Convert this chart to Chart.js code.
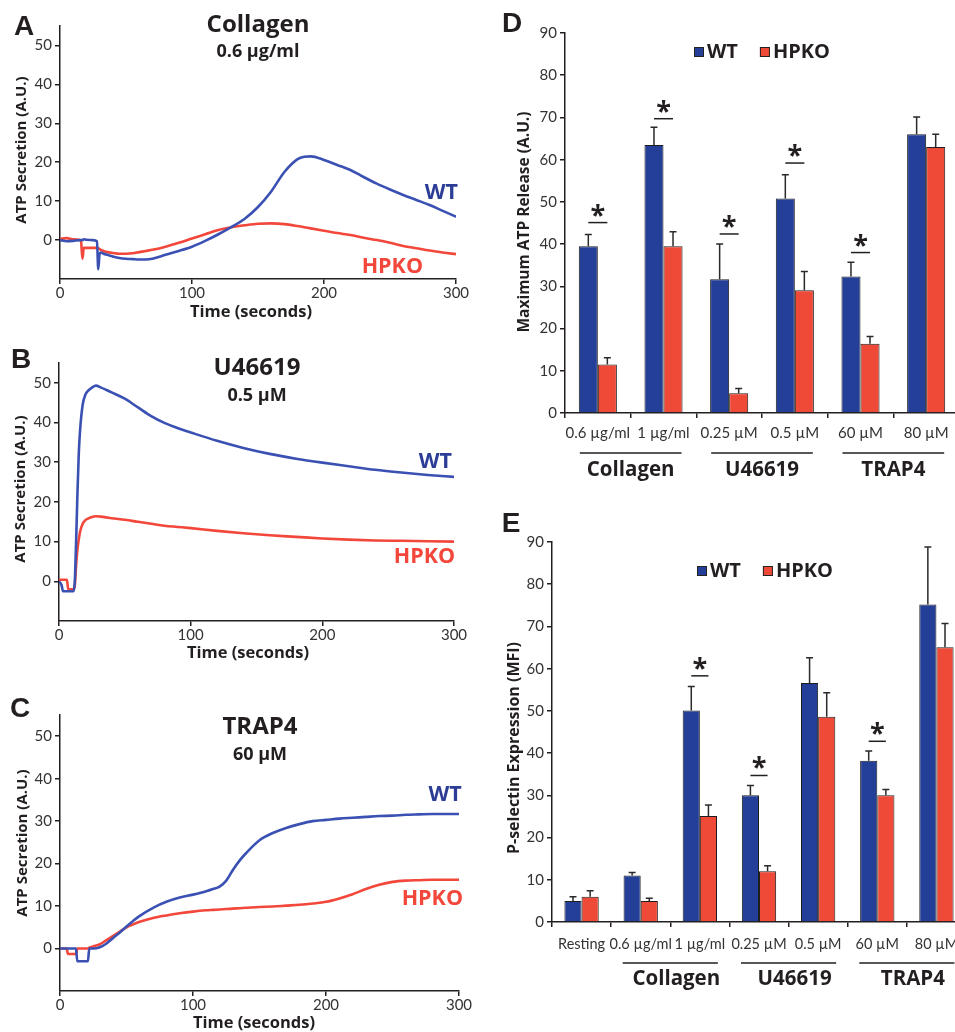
<!DOCTYPE html>
<html>
<head>
<meta charset="utf-8">
<title>ATP secretion and P-selectin expression</title>
<script src="https://cdn.jsdelivr.net/npm/chart.js@4.4.1/dist/chart.umd.min.js"></script>
<style>
  html, body { margin: 0; padding: 0; background: #fff; }
  body { position: relative; width: 955px; height: 1032px; overflow: hidden; }
  canvas { position: absolute; }
</style>
</head>
<body>
<canvas id="panelA" width="470" height="325" style="left:0;top:0"></canvas>
<canvas id="panelB" width="470" height="340" style="left:0;top:330px"></canvas>
<canvas id="panelC" width="480" height="362" style="left:0;top:670px"></canvas>
<canvas id="panelD" width="475" height="500" style="left:490px;top:0"></canvas>
<canvas id="panelE" width="485" height="532" style="left:490px;top:500px"></canvas>

<script>
'use strict';

/* ── Panel A: ATP secretion, collagen 0.6 µg/ml ── */
const timeA  = [0, 5, 10, 15, 16, 17, 18, 20, 25, 28, 29, 30, 31, 33, 36, 40, 45, 50, 55, 60, 65, 70, 80, 90, 100, 110, 120, 130, 140, 150, 160, 170, 180, 185, 190, 200, 210, 220, 230, 240, 250, 260, 270, 280, 290, 300];
const wtA    = [0, -0.3, -0.2, 0, 0, 0, 0.2, 0.1, 0, -0.3, -7.5, -3.5, -3.2, -3.5, -3.8, -4.2, -4.6, -4.8, -4.9, -5, -5, -4.8, -3.8, -2.8, -1.7, -0.2, 1.5, 3.4, 5.5, 8.5, 12.5, 17.5, 20.8, 21.4, 21.5, 20.6, 19.3, 18, 16.2, 14.5, 13, 11.6, 10.3, 9, 7.5, 6];
const hpkoA  = [0.3, 0.5, 0.2, 0, -0.5, -4.8, -2, -2, -2, -2, -2.1, -2.3, -2.5, -2.8, -3.1, -3.3, -3.5, -3.5, -3.4, -3.1, -2.8, -2.5, -1.7, -0.7, 0.4, 1.5, 2.6, 3.3, 3.8, 4.2, 4.3, 4.1, 3.6, 3.3, 3, 2.4, 1.8, 1.3, 0.6, 0, -0.7, -1.5, -2.1, -2.7, -3.2, -3.6];

/* ── Panel B: ATP secretion, U46619 0.5 µM ── */
const timeB  = [0, 2, 3, 6, 7, 11, 12, 13, 14, 15, 16, 18, 20, 22, 25, 28, 32, 36, 40, 50, 60, 70, 80, 90, 100, 120, 140, 160, 180, 200, 220, 240, 260, 280, 300];
const wtB    = [0, -1, -2.5, -2.5, -2.5, -2.5, 0, 10, 22, 32, 38, 44.5, 47, 48, 48.8, 49.3, 48.8, 48.2, 47.6, 46, 43.8, 41.6, 39.9, 38.6, 37.5, 35.4, 33.6, 32.1, 30.9, 29.9, 29, 28.1, 27.4, 26.8, 26.3];
const hpkoB  = [0.4, 0.4, 0.4, 0.4, -2, -2, -1, 4, 8, 10.5, 12.5, 14.5, 15.4, 15.8, 16.2, 16.4, 16.3, 16.1, 15.9, 15.5, 15, 14.5, 14, 13.7, 13.4, 12.7, 12.1, 11.6, 11.2, 10.8, 10.5, 10.3, 10.2, 10.1, 10];

/* ── Panel C: ATP secretion, TRAP4 60 µM ── */
const timeC  = [0, 5, 6, 11, 12, 13, 20, 21, 22, 25, 30, 35, 40, 45, 50, 55, 60, 70, 80, 90, 100, 110, 115, 120, 125, 130, 135, 140, 150, 160, 170, 180, 190, 200, 210, 220, 230, 240, 250, 260, 270, 280, 290, 300];
const wtC    = [0, 0, 0, 0, 0, -3, -3, -3, 0, 0, 0.3, 1.2, 2.5, 3.8, 5.2, 6.5, 7.7, 9.6, 11, 12, 12.7, 13.5, 14, 14.6, 16, 18.5, 20.7, 22.5, 25.5, 27.2, 28.4, 29.3, 30, 30.3, 30.6, 30.8, 31, 31.2, 31.3, 31.5, 31.6, 31.7, 31.7, 31.7];
const hpkoC  = [0, 0, -1.3, -1.3, -1.3, 0, 0, 0, 0.2, 0.5, 1, 2, 3, 4, 5, 5.7, 6.3, 7.2, 7.8, 8.3, 8.7, 9, 9.1, 9.2, 9.3, 9.4, 9.5, 9.6, 9.8, 9.9, 10.1, 10.3, 10.6, 11, 11.8, 12.8, 14, 15, 15.7, 16, 16.1, 16.2, 16.2, 16.2];

const timeTicks      = [0, 100, 200, 300];
const secretionTicks = [0, 10, 20, 30, 40, 50];

/* ── Panel D: maximum ATP release ── */
const doseD      = ['0.6 µg/ml', '1 µg/ml', '0.25 µM', '0.5 µM', '60 µM', '80 µM'];
const wtD        = [39.5, 63.5, 31.7, 50.8, 32.3, 66.0];
const wtErrD     = [2.8, 4.2, 8.3, 5.6, 3.4, 4.1];
const hpkoD      = [11.5, 39.5, 4.7, 29.1, 16.4, 63.0];
const hpkoErrD   = [1.6, 3.4, 1.1, 4.4, 1.7, 3.0];
const sigIndexD  = [0, 1, 2, 3, 4];
const sigLevelD  = [45.1, 69.7, 42.4, 59.2, 38.0];
const groupStartD = [0, 2, 4];
const groupEndD   = [1, 3, 5];

/* ── Panel E: P-selectin expression ── */
const doseE      = ['Resting', '0.6 µg/ml', '1 µg/ml', '0.25 µM', '0.5 µM', '60 µM', '80 µM'];
const wtE        = [5.0, 11.0, 50.1, 30.0, 56.6, 38.2, 75.2];
const wtErrE     = [1.0, 0.7, 5.7, 2.3, 6.0, 2.3, 13.6];
const hpkoE      = [6.0, 5.0, 25.1, 12.0, 48.6, 30.0, 65.1];
const hpkoErrE   = [1.4, 0.6, 2.6, 1.3, 5.7, 1.4, 5.6];
const sigIndexE  = [2, 3, 5];
const sigLevelE  = [58.3, 34.7, 42.8];
const groupStartE = [1, 3, 5];
const groupEndE   = [2, 4, 6];

const agonists  = ['Collagen', 'U46619', 'TRAP4'];
const barTicks  = [0, 10, 20, 30, 40, 50, 60, 70, 80, 90];

/* ── Shared styles ── */
const FONT       = 'Lato, "Open Sans", sans-serif';
const BOLD       = '"Open Sans", Lato, sans-serif';
const LETTER     = 'bold 28px "Liberation Sans", Arial, sans-serif';
const INK        = '#231f20';
const TICK_INK   = '#333';
const LINE_BLUE  = '#3a51b3';
const LINE_RED   = '#f2473a';
const LABEL_BLUE = '#2b3d96';
const BAR_BLUE   = '#233f97';
const BAR_RED    = '#ef4a38';

Chart.defaults.font.family = FONT;
Chart.defaults.color = INK;

const axisGrid   = { display: true, drawOnChartArea: false, drawTicks: true, tickLength: 5, color: INK, lineWidth: 1.5 };
const axisBorder = { display: true, color: INK, width: 1.5 };

const bold = px => `bold ${px}px ${BOLD}`;

function drawText(ctx, t) {
  ctx.save();
  ctx.font = t.font;
  ctx.fillStyle = t.color || INK;
  ctx.textAlign = t.align || 'center';
  ctx.textBaseline = 'middle';
  ctx.translate(t.x, t.y);
  if (t.rotate) ctx.rotate(t.rotate);
  ctx.fillText(t.text, 0, 0);
  ctx.restore();
}

/* texts in canvas px, series labels in data units */
function decorPlugin(texts, seriesLabels) {
  return {
    id: 'decor',
    afterDraw(chart) {
      const { ctx, scales } = chart;
      texts.forEach(t => drawText(ctx, t));
      (seriesLabels || []).forEach(s => drawText(ctx, {
        text: s.text, font: bold(21.5), color: s.color, align: 'right',
        x: scales.x.getPixelForValue(s.x), y: scales.y.getPixelForValue(s.y)
      }));
    }
  };
}

function lineConfig(time, wt, hpko, geo, texts, seriesLabels) {
  const pts = vals => time.map((t, i) => ({ x: t, y: vals[i] }));
  return {
    type: 'line',
    data: {
      datasets: [
        { label: 'WT',   data: pts(wt),   borderColor: LINE_BLUE, borderWidth: 2.6, pointRadius: 0, cubicInterpolationMode: 'monotone' },
        { label: 'HPKO', data: pts(hpko), borderColor: LINE_RED,  borderWidth: 2.6, pointRadius: 0, cubicInterpolationMode: 'monotone' },
      ]
    },
    options: {
      responsive: false,
      animation: false,
      layout: { padding: { top: geo.top, right: geo.right, left: 0, bottom: 0 } },
      plugins: { legend: { display: false }, tooltip: { enabled: false } },
      scales: {
        x: {
          type: 'linear', min: 0, max: 300,
          afterBuildTicks: s => { s.ticks = timeTicks.map(v => ({ value: v })); },
          afterFit: s => { s.height = geo.xh; },
          grid: axisGrid, border: axisBorder,
          ticks: { font: { size: 15 }, color: TICK_INK, padding: 0, maxRotation: 0 },
        },
        y: {
          min: -10, max: 55,
          afterBuildTicks: s => { s.ticks = secretionTicks.map(v => ({ value: v })); },
          afterFit: s => { s.width = geo.yw; },
          grid: axisGrid, border: axisBorder,
          ticks: { font: { size: 15 }, color: TICK_INK, padding: 3 },
        }
      }
    },
    plugins: [decorPlugin(texts, seriesLabels)]
  };
}

/* error bars, significance brackets, agonist groups, legend */
function barDecorPlugin(o) {
  return {
    id: 'barDecor',
    afterDatasetsDraw(chart) {
      const { ctx, scales } = chart;
      const y = scales.y;
      const metaWt = chart.getDatasetMeta(0);
      const metaKo = chart.getDatasetMeta(1);
      ctx.save();
      ctx.strokeStyle = '#2a2a2a';
      ctx.lineWidth = 1.5;
      [[metaWt, o.wt, o.wtErr], [metaKo, o.hpko, o.hpkoErr]].forEach(([meta, vals, errs]) => {
        meta.data.forEach((bar, i) => {
          const top = y.getPixelForValue(vals[i] + errs[i]);
          ctx.beginPath();
          ctx.moveTo(bar.x, bar.y);
          ctx.lineTo(bar.x, top);
          ctx.moveTo(bar.x - 3.5, top);
          ctx.lineTo(bar.x + 3.5, top);
          ctx.stroke();
        });
      });
      ctx.restore();
    },
    afterDraw(chart) {
      const { ctx, scales, chartArea } = chart;
      const metaWt = chart.getDatasetMeta(0);
      const metaKo = chart.getDatasetMeta(1);
      ctx.save();
      ctx.strokeStyle = INK;
      ctx.fillStyle = INK;
      ctx.lineWidth = 1.5;

      // significance: bar to bar line with an asterisk
      o.sigIndex.forEach((idx, k) => {
        const x1 = metaWt.data[idx].x, x2 = metaKo.data[idx].x;
        const ly = scales.y.getPixelForValue(o.sigLevel[k]);
        ctx.beginPath();
        ctx.moveTo(x1, ly);
        ctx.lineTo(x2, ly);
        ctx.stroke();
        ctx.font = bold(27);
        ctx.textAlign = 'center';
        ctx.textBaseline = 'alphabetic';
        ctx.fillText('*', (x1 + x2) / 2, ly + 1);
      });

      // agonist group underlines and names
      const cx = i => scales.x.getPixelForValue(i);
      agonists.forEach((name, g) => {
        const a = cx(o.groupStart[g]) - 18;
        const b = cx(o.groupEnd[g]) + 18;
        const ly = chartArea.bottom + o.groupLineGap;
        ctx.beginPath();
        ctx.moveTo(a, ly);
        ctx.lineTo(b, ly);
        ctx.stroke();
        drawText(ctx, { text: name, font: bold(20.5), x: (a + b) / 2 + o.groupShift, y: chartArea.bottom + o.groupLabelGap });
      });

      // legend
      let lx = o.legendX;
      [['WT', BAR_BLUE], ['HPKO', BAR_RED]].forEach(([txt, col]) => {
        ctx.fillStyle = col;
        ctx.fillRect(lx, o.legendY - 5, 10, 10);
        ctx.lineWidth = 1;
        ctx.strokeStyle = '#222';
        ctx.strokeRect(lx + 0.5, o.legendY - 4.5, 9, 9);
        ctx.font = bold(20);
        drawText(ctx, { text: txt, font: bold(20), align: 'left', x: lx + 13, y: o.legendY });
        lx += 13 + ctx.measureText(txt).width + 22;
      });

      o.texts.forEach(t => drawText(ctx, t));
      ctx.restore();
    }
  };
}

function barConfig(labels, o, geo) {
  return {
    type: 'bar',
    data: {
      labels,
      datasets: [
        { label: 'WT',   data: o.wt,   backgroundColor: BAR_BLUE, borderColor: '#1e1e1e', borderWidth: 1 },
        { label: 'HPKO', data: o.hpko, backgroundColor: BAR_RED,  borderColor: '#1e1e1e', borderWidth: 1 },
      ]
    },
    options: {
      responsive: false,
      animation: false,
      categoryPercentage: 0.58,
      barPercentage: 1.0,
      layout: { padding: { top: geo.top, right: geo.right, left: 0, bottom: 0 } },
      plugins: { legend: { display: false }, tooltip: { enabled: false } },
      scales: {
        x: {
          afterFit: s => { s.height = geo.xh; },
          grid: Object.assign({}, axisGrid, { offset: true }), border: axisBorder,
          ticks: { font: { size: geo.labelSize }, color: TICK_INK, padding: geo.labelPad, maxRotation: 0, autoSkip: false },
        },
        y: {
          min: 0, max: 90,
          afterBuildTicks: s => { s.ticks = barTicks.map(v => ({ value: v })); },
          afterFit: s => { s.width = geo.yw; },
          grid: axisGrid, border: axisBorder,
          ticks: { font: { size: 15 }, color: TICK_INK, padding: 3 },
        }
      }
    },
    plugins: [barDecorPlugin(o)]
  };
}

const ROT = -Math.PI / 2;

/* ── A ── */
new Chart(document.getElementById('panelA'), lineConfig(timeA, wtA, hpkoA,
  { top: 26, right: 14, yw: 60, xh: 46 },
  [
    { text: 'A', font: LETTER, x: 24, y: 27 },
    { text: 'Collagen', font: bold(24), x: 258, y: 25 },
    { text: '0.6 µg/ml', font: bold(18), x: 258, y: 52 },
    { text: 'ATP Secretion (A.U.)', font: bold(15), x: 22, y: 150, rotate: ROT },
    { text: 'Time (seconds)', font: bold(16.5), x: 251, y: 312 },
  ],
  [
    { text: 'WT',   color: LABEL_BLUE, x: 301.5, y: 12.1 },
    { text: 'HPKO', color: LINE_RED,   x: 275,   y: -6.9 },
  ]));

/* ── B ── */
new Chart(document.getElementById('panelB'), lineConfig(timeB, wtB, hpkoB,
  { top: 33, right: 16, yw: 59, xh: 49 },
  [
    { text: 'B', font: LETTER, x: 21, y: 30 },
    { text: 'U46619', font: bold(24), x: 257, y: 38 },
    { text: '0.5 µM', font: bold(18), x: 257, y: 66 },
    { text: 'ATP Secretion (A.U.)', font: bold(15), x: 21, y: 159, rotate: ROT },
    { text: 'Time (seconds)', font: bold(16.5), x: 248, y: 323 },
  ],
  [
    { text: 'WT',   color: LABEL_BLUE, x: 298.5, y: 30.2 },
    { text: 'HPKO', color: LINE_RED,   x: 300.8, y: 6.25 },
  ]));

/* ── C ── */
new Chart(document.getElementById('panelC'), lineConfig(timeC, wtC, hpkoC,
  { top: 45, right: 21, yw: 60, xh: 41 },
  [
    { text: 'C', font: LETTER, x: 20, y: 39 },
    { text: 'TRAP4', font: bold(24), x: 260, y: 57 },
    { text: '60 µM', font: bold(18), x: 260, y: 85 },
    { text: 'ATP Secretion (A.U.)', font: bold(15), x: 23, y: 173, rotate: ROT },
    { text: 'Time (seconds)', font: bold(16.5), x: 254, y: 353 },
  ],
  [
    { text: 'WT',   color: LABEL_BLUE, x: 302, y: 36.1 },
    { text: 'HPKO', color: LINE_RED,   x: 303, y: 11.8 },
  ]));

/* ── D ── */
new Chart(document.getElementById('panelD'), barConfig(doseD, {
  wt: wtD, wtErr: wtErrD, hpko: hpkoD, hpkoErr: hpkoErrD,
  sigIndex: sigIndexD, sigLevel: sigLevelD,
  groupStart: groupStartD, groupEnd: groupEndD,
  groupLineGap: 40, groupLabelGap: 57, groupShift: 0,
  legendX: 204, legendY: 52,
  texts: [
    { text: 'D', font: LETTER, x: 22, y: 24 },
    { text: 'Maximum ATP Release (A.U.)', font: bold(15.5), x: 35, y: 222, rotate: ROT },
  ]
}, { top: 33, right: 6, yw: 75, xh: 87, labelPad: 6, labelSize: 15 }));

/* ── E ── */
new Chart(document.getElementById('panelE'), barConfig(doseE, {
  wt: wtE, wtErr: wtErrE, hpko: hpkoE, hpkoErr: hpkoErrE,
  sigIndex: sigIndexE, sigLevel: sigLevelE,
  groupStart: groupStartE, groupEnd: groupEndE,
  groupLineGap: 41, groupLabelGap: 57, groupShift: 6,
  legendX: 207, legendY: 71,
  texts: [
    { text: 'E', font: LETTER, x: 21, y: 24 },
    { text: 'P-selectin Expression (MFI)', font: bold(16), x: 24, y: 248, rotate: ROT },
  ]
}, { top: 42, right: 9, yw: 62, xh: 110, labelPad: 9, labelSize: 14.5 }));
</script>
</body>
</html>
